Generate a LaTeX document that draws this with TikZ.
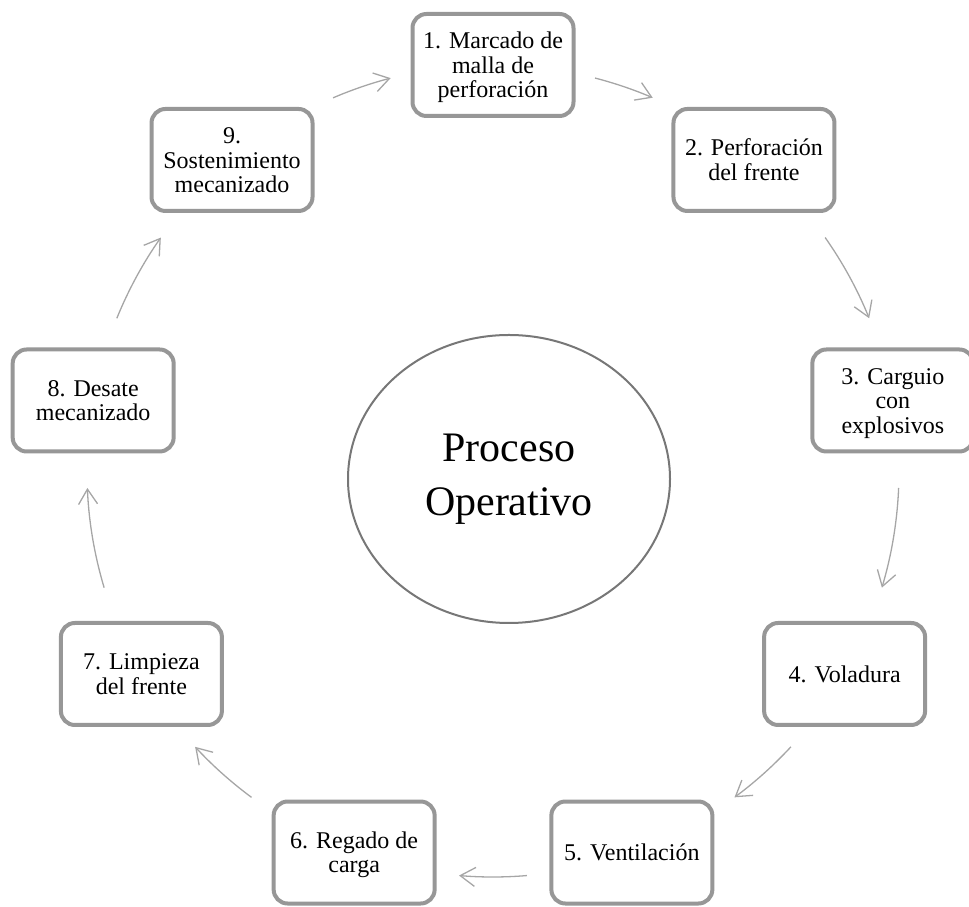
\documentclass[tikz,border=0pt]{standalone}
\usepackage{fontspec}
\setmainfont{Liberation Serif}
\usetikzlibrary{arrows.meta,calc,shapes.geometric}
\definecolor{boxgray}{HTML}{979797}
\definecolor{circgray}{HTML}{777777}
\definecolor{arrgray}{HTML}{A6A6A6}
\newcommand{\topstrut}{\rule{0pt}{23.5pt}}
\begin{document}
\begin{tikzpicture}[x=1pt,y=1pt,
  stepbox/.style={draw=boxgray, line width=4pt, rounded corners=14pt, fill=white,
    minimum width=161pt, minimum height=102pt, align=center, inner sep=0pt,
    font=\fontsize{24}{24.5}\selectfont},
  cyc/.style={draw=arrgray, line width=1.3pt, -{Straight Barb[length=15pt,width=19pt]}}]
\useasboundingbox (0,0) rectangle (969,907);
\coordinate (c) at (493,436);
\node[stepbox] (n1) at ($(c)+(90:406)$) {\topstrut 1. Marcado de\\malla de\\perforación\strut};
\node[stepbox] (n2) at ($(c)+(50:406)$) {\topstrut 2. Perforación\\del frente\strut};
\node[stepbox] (n3) at ($(c)+(10:406)$) {\topstrut 3. Carguio\\con\\explosivos\strut};
\node[stepbox] (n4) at ($(c)+(-30:406)$) {\topstrut 4. Voladura\strut};
\node[stepbox] (n5) at ($(c)+(-70:406)$) {\topstrut 5. Ventilación\strut};
\node[stepbox] (n6) at ($(c)+(-110:406)$) {\topstrut 6. Regado de\\carga\strut};
\node[stepbox] (n7) at ($(c)+(-150:406)$) {\topstrut 7. Limpieza\\del frente\strut};
\node[stepbox] (n8) at ($(c)+(170:406)$) {\topstrut 8. Desate\\mecanizado\strut};
\node[stepbox] (n9) at ($(c)+(130:406)$) {\topstrut 9.\\Sostenimiento\\mecanizado\strut};
\node[draw=circgray, line width=2pt, ellipse, minimum width=322pt, minimum height=288pt,
  inner sep=0pt, align=center, font=\fontsize{42}{54}\selectfont] (proc) at (509,428) {Proceso\\Operativo};
% connectors (arcs around the cycle centre)
\coordinate (s12) at ($(c)+(75.45:406)$);
\coordinate (s23) at ($(c)+(35.1:406)$);
\coordinate (s34) at ($(c)+(-2.4:406)$);
\coordinate (s45) at ($(c)+(-42.8:406)$);
\coordinate (s56) at ($(c)+(-85.2:406)$);
\coordinate (s67) at ($(c)+(-126.5:406)$);
\coordinate (s78) at ($(c)+(-163.3:406)$);
\coordinate (s89) at ($(c)+(157.9:406)$);
\coordinate (s91) at ($(c)+(113.2:406)$);
\draw[cyc] (s12) arc[start angle=75.45, end angle=66.83, radius=406pt];
\draw[cyc] (s23) arc[start angle=35.1, end angle=22.1, radius=406pt];
\draw[cyc] (s34) arc[start angle=-2.4, end angle=-16.7, radius=406pt];
\draw[cyc] (s45) arc[start angle=-42.8, end angle=-53.5, radius=406pt];
\draw[cyc] (s56) arc[start angle=-85.2, end angle=-94.8, radius=406pt];
\draw[cyc] (s67) arc[start angle=-126.5, end angle=-137.2, radius=406pt];
\draw[cyc] (s78) arc[start angle=-163.3, end angle=-177.6, radius=406pt];
\draw[cyc] (s89) arc[start angle=157.9, end angle=144.9, radius=406pt];
\draw[cyc] (s91) arc[start angle=113.2, end angle=104.6, radius=406pt];
\end{tikzpicture}
\end{document}
